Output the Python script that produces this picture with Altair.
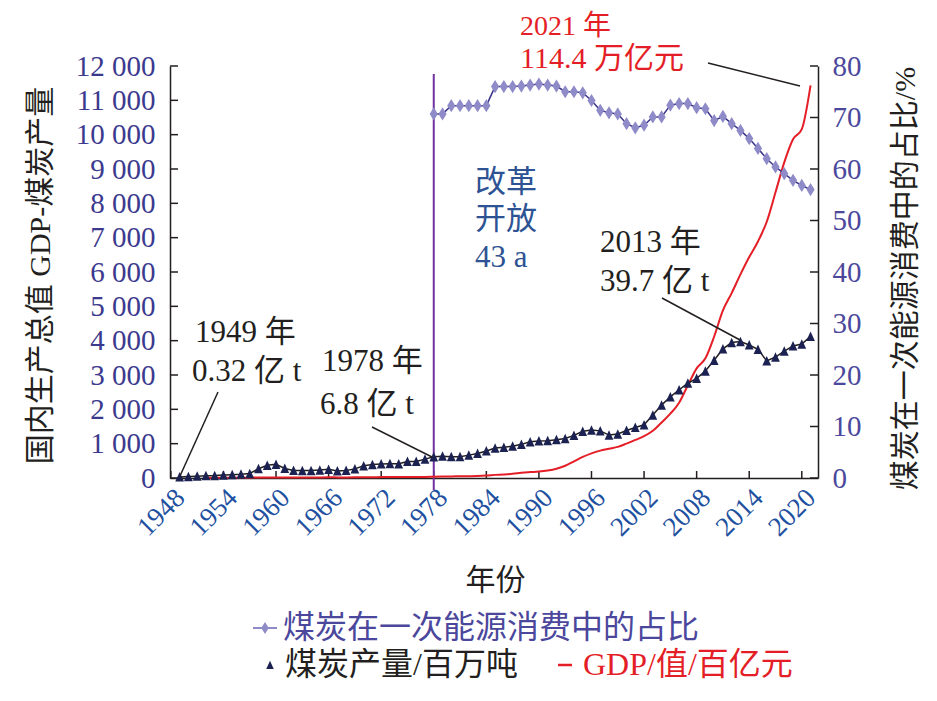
import altair as alt
import pandas as pd

# ---------------- data ----------------
coal_years = list(range(1949, 2022))
coal_mt = [32, 43, 53, 66, 70, 84, 98, 110, 131, 270,
           369, 397, 278, 220, 217, 215, 232, 252, 206, 220,
           266, 354, 392, 410, 417, 413, 482, 483, 550, 618,
           635, 620, 622, 666, 715, 789, 872, 894, 928, 980,
           1054, 1080, 1087, 1116, 1150, 1240, 1361, 1397, 1373, 1250,
           1280, 1384, 1472, 1550, 1835, 2123, 2365, 2570, 2760, 2903,
           3115, 3428, 3764, 3945, 3974, 3874, 3747, 3411, 3524, 3698,
           3846, 3902, 4126]

gdp_years = list(range(1952, 2022))
gdp_100m = [6.79, 8.24, 8.59, 9.11, 10.30, 10.71, 13.12, 14.47, 14.70, 12.32,
            11.62, 12.48, 14.70, 17.34, 18.89, 17.94, 17.44, 19.62, 22.80, 24.57,
            25.52, 27.56, 28.28, 30.40, 29.89, 32.50, 36.79, 41.01, 45.88, 49.36,
            53.73, 60.21, 72.79, 90.99, 103.76, 121.75, 151.80, 171.80, 188.73, 220.06,
            271.95, 356.73, 486.38, 613.40, 718.14, 797.15, 851.96, 905.64, 1002.80, 1108.63,
            1217.17, 1374.22, 1618.40, 1873.19, 2194.39, 2700.92, 3192.45, 3485.18, 4121.19, 4879.40,
            5385.80, 5929.63, 6435.63, 6888.58, 7463.95, 8320.36, 9192.81, 9865.15, 10159.86, 11436.70]

share_years = list(range(1978, 2022))
coal_share = [70.7, 70.7, 72.3, 72.3, 72.3, 72.3, 72.3, 76.0, 76.0, 76.0,
              76.1, 76.3, 76.5, 76.3, 76.1, 75.0, 75.0, 74.8, 73.3, 71.4,
              70.9, 70.7, 68.8, 68.0, 68.5, 70.1, 70.1, 72.4, 72.7, 72.7,
              71.9, 71.7, 69.4, 70.2, 68.8, 67.5, 65.9, 64.0, 62.0, 60.4,
              59.1, 57.8, 56.8, 56.0]

x_tick_years = [1948, 1954, 1960, 1966, 1972, 1978, 1984, 1990, 1996, 2002, 2008, 2014, 2020]
left_ticks = list(range(0, 12001, 1000))
right_ticks = list(range(0, 81, 10))
reform_year = [1978]

# ---------------- style ----------------
W, H = 648, 412
FONT = "Liberation Serif, Times New Roman, Noto Sans CJK SC"
BLACK = "#231f20"
RED = "#e41e26"
NAVY = "#1b2150"
LILAC = "#8e8bc8"
PURPLE_LINE = "#3b3589"
LEFT_LBL = "#3c3a8e"
RIGHT_LBL = "#4b489c"
X_LBL = "#2150a0"
NOTE_BLUE = "#2e5394"
VLINE = "#7030a0"

DIAMOND = "M0,-1L0.62,0L0,1L-0.62,0Z"
TRIANGLE = "M0,-1L0.9,0.95L-0.9,0.95Z"

coal_df = pd.DataFrame({"year": coal_years, "coal": coal_mt})
gdp_df = pd.DataFrame({"year": gdp_years, "gdp": gdp_100m})
share_df = pd.DataFrame({"year": share_years, "share": coal_share})
xt_df = pd.DataFrame({"year": x_tick_years})
lt_df = pd.DataFrame({"v": left_ticks})
rt_df = pd.DataFrame({"v": right_ticks})
ref_df = pd.DataFrame({"year": reform_year})
one = pd.DataFrame({"d": [0]})

xscale = alt.Scale(domain=[1947.9, 2021.85], nice=False, zero=False)
lscale = alt.Scale(domain=[0, 12000], nice=False)
rscale = alt.Scale(domain=[0, 80], nice=False)

x_axis = alt.Axis(values=x_tick_years, format="d", labelAngle=-45, labelColor=X_LBL,
                  labelFont=FONT, labelFontSize=27, labelPadding=6, ticks=False,
                  labelOverlap=False, labelBound=False, labelFlush=False,
                  domainColor=BLACK, domainWidth=1.5, grid=False,
                  title="年份", titleFont=FONT, titleFontSize=30, titleFontWeight="normal",
                  titleColor=BLACK, titleX=325, titleY=102, titleBaseline="middle",
                  titleAlign="center")
left_axis = alt.Axis(orient="left", values=left_ticks, labelColor=LEFT_LBL, labelFont=FONT,
                     labelFontSize=29, labelPadding=15, ticks=False, labelOverlap=False,
                     labelExpr="replace(format(datum.value, ',d'), ',', ' ')",
                     domainColor=BLACK, domainWidth=1.5, grid=False,
                     title="国内生产总值 GDP-煤炭产量", titleFont=FONT, titleFontSize=30,
                     titleFontWeight="normal", titleColor=BLACK, titleAngle=270,
                     titleX=-130, titleY=209, titleBaseline="middle", titleAlign="center")
right_axis = alt.Axis(orient="right", values=right_ticks, labelColor=RIGHT_LBL, labelFont=FONT,
                      labelFontSize=29, labelPadding=14, ticks=False, labelOverlap=False,
                      domainColor=BLACK, domainWidth=1.5, grid=False,
                      title="煤炭在一次能源消费中的占比/%", titleFont=FONT, titleFontSize=30,
                      titleFontWeight="normal", titleColor=BLACK, titleAngle=270,
                      titleX=87, titleY=212, titleBaseline="middle", titleAlign="center")

X = alt.X("year:Q", scale=xscale, axis=x_axis)


def note(text, x, y, color=BLACK, size=30):
    return alt.Chart(one).mark_text(font=FONT, fontSize=size, align="left", baseline="middle",
                                    color=color).encode(
        x=alt.value(x), y=alt.value(y), text=alt.value(text))


def pointer(x1, y1, x2, y2):
    return alt.Chart(one).mark_rule(color=BLACK, strokeWidth=1.5).encode(
        x=alt.value(x1), y=alt.value(y1), x2=alt.value(x2), y2=alt.value(y2))


# ---------------- left (GDP / coal output) ----------------
coal_line = alt.Chart(coal_df).mark_line(color=BLACK, strokeWidth=1.5).encode(
    x=X, y=alt.Y("coal:Q", scale=lscale, axis=left_axis))
coal_pts = alt.Chart(coal_df).mark_point(shape=TRIANGLE, filled=True, color=NAVY, size=95,
                                         opacity=1).encode(
    x=X, y=alt.Y("coal:Q", scale=lscale, axis=left_axis))
gdp_line = alt.Chart(gdp_df).mark_line(color=RED, strokeWidth=2, interpolate="monotone").encode(
    x=X, y=alt.Y("gdp:Q", scale=lscale, axis=left_axis))
lticks = alt.Chart(lt_df).mark_rule(color=BLACK, strokeWidth=1.5).encode(
    y=alt.Y("v:Q", scale=lscale, axis=left_axis), x=alt.value(0), x2=alt.value(8))
xticks = alt.Chart(xt_df).mark_rule(color=BLACK, strokeWidth=1.5).encode(
    x=X, y=alt.value(H - 7), y2=alt.value(H))
vline = alt.Chart(ref_df).mark_rule(color=VLINE, strokeWidth=2).encode(
    x=X, y=alt.value(8), y2=alt.value(424))

notes = [
    note("1949 年", 25, 267, BLACK, 31), note("0.32 亿 t", 22, 306, BLACK, 31), pointer(48, 326, 10, 410),
    note("1978 年", 152, 296, BLACK, 31), note("6.8 亿 t", 150, 339, BLACK, 31), pointer(202, 361, 262, 391),
    note("改革", 305, 117, NOTE_BLUE, 31), note("开放", 305, 154, NOTE_BLUE, 31),
    note("43 a", 305, 192, NOTE_BLUE, 31),
    note("2013 年", 430, 177, BLACK, 31), note("39.7 亿 t", 430, 216, BLACK, 31), pointer(492, 232, 570, 274),
    note("2021 年", 350, -39, RED, 28), note("114.4 万亿元", 350, -7, RED, 30), pointer(538, -3, 630, 20),
]

# legend (manual)
leg = [
    alt.Chart(one).mark_rule(color=LILAC, strokeWidth=2).encode(
        x=alt.value(83), x2=alt.value(107), y=alt.value(562)),
    alt.Chart(one).mark_point(shape=DIAMOND, filled=True, color=LILAC, size=150, opacity=1).encode(
        x=alt.value(95), y=alt.value(562)),
    note("煤炭在一次能源消费中的占比", 113, 562, "#4b479c", 32),
    alt.Chart(one).mark_point(shape=TRIANGLE, filled=True, color=NAVY, size=70, opacity=1).encode(
        x=alt.value(100), y=alt.value(599)),
    note("煤炭产量/百万吨", 115, 599, BLACK, 32),
    alt.Chart(one).mark_rule(color=RED, strokeWidth=2.5).encode(
        x=alt.value(388), x2=alt.value(402), y=alt.value(599)),
    note("GDP/值/百亿元", 413, 599, RED, 32),
]

left_group = alt.layer(lticks, xticks, vline, gdp_line, coal_line, coal_pts, *notes, *leg)

# ---------------- right (coal share) ----------------
share_line = alt.Chart(share_df).mark_line(color=PURPLE_LINE, strokeWidth=1.5).encode(
    x=X, y=alt.Y("share:Q", scale=rscale, axis=right_axis))
share_pts = alt.Chart(share_df).mark_point(shape=DIAMOND, filled=True, color=LILAC, size=175,
                                           opacity=1).encode(
    x=X, y=alt.Y("share:Q", scale=rscale, axis=right_axis))
rticks = alt.Chart(rt_df).mark_rule(color=BLACK, strokeWidth=1.5).encode(
    y=alt.Y("v:Q", scale=rscale, axis=right_axis), x=alt.value(W - 8), x2=alt.value(W))

right_group = alt.layer(rticks, share_line, share_pts)

chart = alt.layer(left_group, right_group).resolve_scale(y="independent").properties(
    width=W, height=H,
    autosize=alt.AutoSizeParams(type="none"),
    padding={"left": 162, "top": 58, "right": 111, "bottom": 207},
    background="white",
).configure_view(strokeWidth=0)

chart.save("out.html", embed_options={"renderer": "svg", "actions": False})
